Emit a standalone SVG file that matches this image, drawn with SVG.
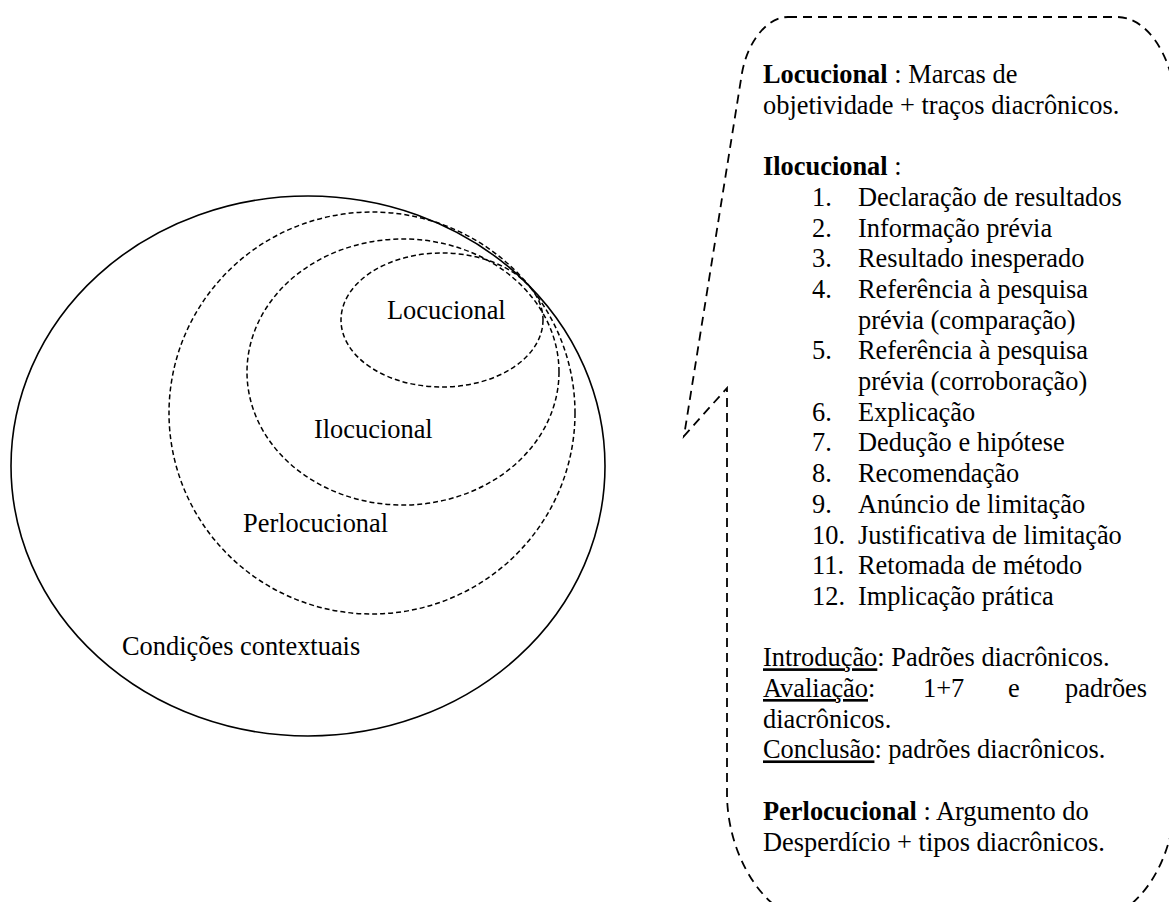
<svg xmlns="http://www.w3.org/2000/svg" width="1169" height="902" viewBox="0 0 1169 902">
<style>
.t{font-family:"Liberation Serif","Times New Roman",serif;font-size:26.4px;fill:#000}
.b{font-weight:bold}
.u{text-decoration:underline}
.solid{fill:none;stroke:#000;stroke-width:1.6}
.dash{fill:none;stroke:#000;stroke-width:1.5;stroke-dasharray:5 3}
.bub{fill:none;stroke:#000;stroke-width:1.8;stroke-dasharray:9 6}
</style>
<rect width="1169" height="902" fill="#fff"/>
<g id="condicoes">
<ellipse class="solid" cx="308" cy="466" rx="297" ry="270"/>
<text class="t" x="122" y="655">Condições contextuais</text>
</g>
<g id="perlocucional">
<ellipse class="dash" cx="372" cy="413" rx="203" ry="201"/>
<text class="t" x="243" y="532">Perlocucional</text>
</g>
<g id="ilocucional">
<ellipse class="dash" cx="403" cy="372" rx="156" ry="133"/>
<text class="t" x="314" y="438">Ilocucional</text>
</g>
<g id="locucional">
<ellipse class="dash" cx="442" cy="320" rx="101" ry="67"/>
<text class="t" x="387" y="319">Locucional</text>
</g>
<g id="connectors"></g>
<g id="callout">
<path class="bub" d="M788 17 L1117 17 C1145 17 1170 50 1176 100 L1176 800 C1172 860 1145 900 1115 915 L790 915 C757 900 727 850 727 793 L727 388 L684 436 L742 73 C748 40 768 17 788 17 Z"/>
<text class="t" x="763" y="83"><tspan class="b">Locucional</tspan> : Marcas de</text>
<text class="t" x="763" y="113.7">objetividade + traços diacrônicos.</text>
<text class="t" x="763" y="175.1"><tspan class="b">Ilocucional</tspan> :</text>
<text class="t" y="205.8"><tspan x="812">1.</tspan><tspan x="858">Declaração de resultados</tspan></text>
<text class="t" y="236.5"><tspan x="812">2.</tspan><tspan x="858">Informação prévia</tspan></text>
<text class="t" y="267.2"><tspan x="812">3.</tspan><tspan x="858">Resultado inesperado</tspan></text>
<text class="t" y="297.9"><tspan x="812">4.</tspan><tspan x="858">Referência à pesquisa</tspan></text>
<text class="t" x="858" y="328.6">prévia (comparação)</text>
<text class="t" y="359.3"><tspan x="812">5.</tspan><tspan x="858">Referência à pesquisa</tspan></text>
<text class="t" x="858" y="390">prévia (corroboração)</text>
<text class="t" y="420.7"><tspan x="812">6.</tspan><tspan x="858">Explicação</tspan></text>
<text class="t" y="451.4"><tspan x="812">7.</tspan><tspan x="858">Dedução e hipótese</tspan></text>
<text class="t" y="482.1"><tspan x="812">8.</tspan><tspan x="858">Recomendação</tspan></text>
<text class="t" y="512.8"><tspan x="812">9.</tspan><tspan x="858">Anúncio de limitação</tspan></text>
<text class="t" y="543.5"><tspan x="812">10.</tspan><tspan x="858">Justificativa de limitação</tspan></text>
<text class="t" y="574.2"><tspan x="812">11.</tspan><tspan x="858">Retomada de método</tspan></text>
<text class="t" y="604.9"><tspan x="812">12.</tspan><tspan x="858">Implicação prática</tspan></text>
<text class="t" x="763" y="666.3"><tspan class="u">Introdução</tspan>: Padrões diacrônicos.</text>
<text class="t" y="697"><tspan x="763"><tspan class="u">Avaliação</tspan>:</tspan><tspan x="923">1+7</tspan><tspan x="1008">e</tspan><tspan x="1065">padrões</tspan></text>
<text class="t" x="763" y="727.7">diacrônicos.</text>
<text class="t" x="763" y="758.4"><tspan class="u">Conclusão</tspan>: padrões diacrônicos.</text>
<text class="t" x="763" y="819.8"><tspan class="b">Perlocucional</tspan> : Argumento do</text>
<text class="t" x="763" y="850.5">Desperdício + tipos diacrônicos.</text>
</g>
</svg>
